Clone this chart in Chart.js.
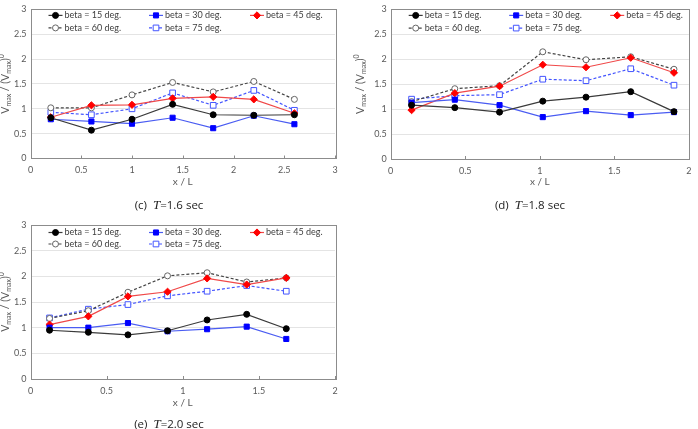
<!DOCTYPE html>
<html><head><meta charset="utf-8">
<script src="https://cdn.jsdelivr.net/npm/chart.js@4/dist/chart.umd.min.js"></script>
<style>
html,body{margin:0;padding:0;background:#fff;width:698px;height:429px;overflow:hidden;font-family:Lato,sans-serif}
canvas{position:absolute}
.cap{position:absolute;font-family:'Open Sans',Lato,sans-serif;font-size:11.5px;color:#222;white-space:nowrap;transform:translate(-50%,-50%)}
.cap i{font-family:'Liberation Serif',serif;font-size:13px}
</style></head><body>
<canvas id="cC" width="345" height="195" style="left:0;top:0"></canvas>
<canvas id="cD" width="348" height="195" style="left:350px;top:0"></canvas>
<canvas id="cE" width="345" height="219" style="left:0;top:210px"></canvas>
<div class="cap" style="left:169px;top:205px">(c)&nbsp; <i>T</i>=1.6 sec</div>
<div class="cap" style="left:530px;top:205px">(d)&nbsp; <i>T</i>=1.8 sec</div>
<div class="cap" style="left:169px;top:424px">(e)&nbsp; <i>T</i>=2.0 sec</div>
<script>
// ---- data ----
const seriesLabels = ['beta = 15 deg.', 'beta = 30 deg.', 'beta = 45 deg.', 'beta = 60 deg.', 'beta = 75 deg.'];
const xTitle = 'x / L';

// (c) T = 1.6 sec
const xC = [0.2, 0.6, 1.0, 1.4, 1.8, 2.2, 2.6];
const c15 = [0.82, 0.57, 0.79, 1.09, 0.88, 0.87, 0.88];
const c30 = [0.79, 0.745, 0.70, 0.82, 0.61, 0.86, 0.69];
const c45 = [0.83, 1.07, 1.08, 1.21, 1.24, 1.19, 0.91];
const c60 = [1.02, 1.02, 1.28, 1.53, 1.34, 1.55, 1.19];
const c75 = [0.93, 0.88, 1.00, 1.32, 1.07, 1.37, 0.97];

// (d) T = 1.8 sec
const xD = [0.14, 0.43, 0.73, 1.02, 1.31, 1.61, 1.90];
const d15 = [1.08, 1.03, 0.94, 1.16, 1.24, 1.35, 0.95];
const d30 = [1.13, 1.19, 1.08, 0.84, 0.96, 0.88, 0.94];
const d45 = [0.98, 1.32, 1.46, 1.89, 1.84, 2.03, 1.73];
const d60 = [1.15, 1.41, 1.47, 2.15, 1.99, 2.05, 1.80];
const d75 = [1.20, 1.27, 1.29, 1.60, 1.57, 1.81, 1.48];

// (e) T = 2.0 sec
const xE = [0.125, 0.38, 0.64, 0.90, 1.16, 1.42, 1.68];
const e15 = [0.95, 0.91, 0.86, 0.94, 1.15, 1.26, 0.98];
const e30 = [1.00, 1.00, 1.09, 0.93, 0.97, 1.02, 0.78];
const e45 = [1.06, 1.22, 1.61, 1.70, 1.96, 1.84, 1.97];
const e60 = [1.18, 1.33, 1.69, 2.01, 2.07, 1.89, 1.97];
const e75 = [1.19, 1.36, 1.45, 1.62, 1.71, 1.82, 1.71];

const yTickValues = [0, 0.5, 1, 1.5, 2, 2.5, 3];

// ---- styles ----
Chart.defaults.font.family = 'Lato, sans-serif';
const styles = [
  {line:'#3a3a3a', fill:'#000000', stroke:'#000000', ps:'circle', r:3, dash:[]},
  {line:'#4a5cf2', fill:'#0000ff', stroke:'#0000ff', ps:'rect', r:3.6, dash:[]},
  {line:'#f04848', fill:'#ff0000', stroke:'#ff0000', ps:'rectRot', r:3.6, dash:[]},
  {line:'#444444', fill:'#ffffff', stroke:'#666666', ps:'circle', r:3, dash:[3,2]},
  {line:'#4455ff', fill:'#ffffff', stroke:'#4455ff', ps:'rect', r:4, dash:[3,2]}
];
const fmt = v => String(Math.round(v * 10) / 10);

function pt(ctx, s, x, y){
  ctx.save();
  ctx.fillStyle = s.fill; ctx.strokeStyle = s.stroke; ctx.lineWidth = 1; ctx.setLineDash([]);
  ctx.beginPath();
  if (s.ps === 'circle') { ctx.arc(x, y, s.r, 0, Math.PI*2); }
  else if (s.ps === 'rect') { const h = s.r*Math.SQRT1_2; ctx.rect(x-h, y-h, 2*h, 2*h); }
  else { ctx.moveTo(x, y-s.r); ctx.lineTo(x+s.r, y); ctx.lineTo(x, y+s.r); ctx.lineTo(x-s.r, y); ctx.closePath(); }
  ctx.fill(); ctx.stroke();
  ctx.restore();
}

const deco = {
  id: 'deco',
  afterDraw(chart, args, o) {
    const ctx = chart.ctx, a = chart.chartArea;
    ctx.save();
    // frame
    ctx.strokeStyle = '#8c8c8c'; ctx.lineWidth = 1; ctx.setLineDash([]);
    ctx.strokeRect(Math.round(a.left)+0.5, Math.round(a.top)+0.5, Math.round(a.right-a.left), Math.round(a.bottom-a.top));
    // inward x ticks
    const xs = chart.scales.x;
    xs.ticks.forEach(t => {
      const px = Math.round(xs.getPixelForValue(t.value))+0.5;
      ctx.beginPath(); ctx.moveTo(px, a.bottom); ctx.lineTo(px, a.bottom-3); ctx.stroke();
    });
    // legend
    const cols = [25, 125.5, 226.5];
    chart.data.datasets.forEach((ds, i) => {
      const s = styles[i];
      const mx = a.left + cols[i%3];
      const my = a.top + o.rows[Math.floor(i/3)];
      ctx.strokeStyle = s.line; ctx.lineWidth = 1.2; ctx.setLineDash(s.dash);
      ctx.beginPath(); ctx.moveTo(mx-7, my); ctx.lineTo(mx+7, my); ctx.stroke();
      pt(ctx, s, mx, my);
      ctx.setLineDash([]);
      ctx.fillStyle = '#404040'; ctx.font = '9px Lato, sans-serif';
      ctx.textBaseline = 'middle'; ctx.textAlign = 'left';
      ctx.fillText(ds.label, mx + 9, my);
    });
    // y title with sub/superscripts
    const segs = [['V',10.5,0],['max',7,3],[' / (V',10.5,0],['max',7,3],[')',10.5,0],['0',7,-4]];
    ctx.fillStyle = '#595959'; ctx.textBaseline = 'middle'; ctx.textAlign = 'left';
    let total = 0;
    segs.forEach(sg => { ctx.font = sg[1] + 'px Lato, sans-serif'; total += ctx.measureText(sg[0]).width; });
    ctx.translate(o.tx, (a.top + a.bottom)/2);
    ctx.rotate(-Math.PI/2);
    let cx = -total/2;
    segs.forEach(sg => { ctx.font = sg[1] + 'px Lato, sans-serif'; ctx.fillText(sg[0], cx, sg[2]); cx += ctx.measureText(sg[0]).width; });
    ctx.restore();
  }
};

function makeChart(id, xs, ys, xMax, g) {
  const datasets = ys.map((arr, i) => {
    const s = styles[i];
    return {
      label: seriesLabels[i],
      data: xs.map((x, k) => ({x: x, y: arr[k]})),
      borderColor: s.line, borderWidth: 1.2, borderDash: s.dash,
      pointStyle: s.ps, pointRadius: s.r, pointHoverRadius: s.r,
      pointBackgroundColor: s.fill, pointBorderColor: s.stroke, pointBorderWidth: 1,
      tension: 0, fill: false
    };
  });
  return new Chart(document.getElementById(id), {
    type: 'line',
    data: {datasets},
    options: {
      responsive: false, animation: false,
      layout: {padding: {left: 0, top: g.top, right: g.right, bottom: 0}},
      plugins: {legend: {display: false}, tooltip: {enabled: false}, deco: {rows: g.rows, tx: g.tx}},
      scales: {
        x: {
          type: 'linear', min: 0, max: xMax,
          grid: {display: false, drawTicks: false},
          border: {display: false},
          ticks: {stepSize: 0.5, color: '#595959', font: {size: 9}, padding: 6.5, maxRotation: 0, autoSkip: false, callback: fmt},
          title: {display: true, text: xTitle, color: '#595959', font: {size: 10}, padding: {top: 0, bottom: g.tpad}},
          afterFit: sc => { sc.height = g.xh; }
        },
        y: {
          min: 0, max: 3,
          afterBuildTicks: sc => { sc.ticks = yTickValues.map(v => ({value: v})); },
          grid: {color: '#e4e4e4', drawTicks: false, lineWidth: 1},
          border: {display: false},
          ticks: {color: '#595959', font: {size: 9}, padding: 4, callback: fmt},
          afterFit: sc => { sc.width = g.yw; }
        }
      }
    },
    plugins: [deco]
  });
}

makeChart('cC', xC, [c15, c30, c45, c60, c75], 3, {top: 4.5, right: 10, yw: 30.5, xh: 36.5, tpad: 7, rows: [6, 18.5], tx: 6});
makeChart('cD', xD, [d15, d30, d45, d60, d75], 2, {top: 9.3, right: 3, yw: 40.7, xh: 36, tpad: 7, rows: [6, 18.7], tx: 11});
makeChart('cE', xE, [e15, e30, e45, e60, e75], 2, {top: 15, right: 10, yw: 30.5, xh: 50, tpad: 20, rows: [7.5, 19], tx: 6});
</script>
</body></html>
